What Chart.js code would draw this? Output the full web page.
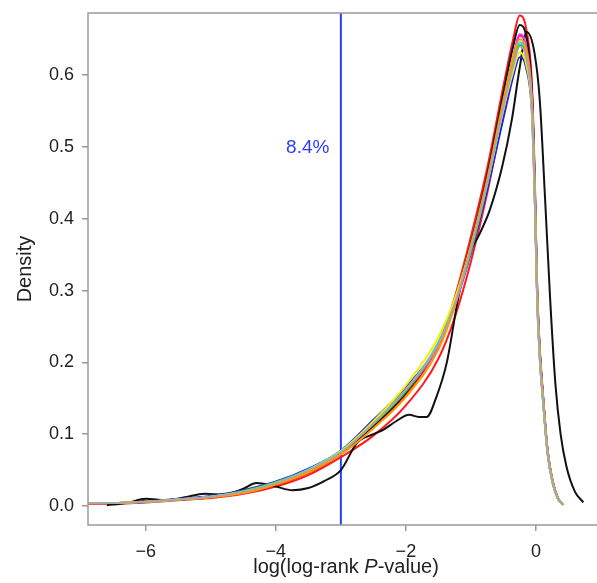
<!DOCTYPE html>
<html>
<head>
<meta charset="utf-8">
<script src="https://cdn.jsdelivr.net/npm/chart.js@4.4.1/dist/chart.umd.min.js"></script>
<style>
  html, body { margin: 0; padding: 0; background: #fff; }
  canvas { display: block; }
</style>
</head>
<body>
<canvas id="densityChart" width="597" height="583"></canvas>
<script>
// Tick values
const xTicks = [-6, -4, -2, 0];
const yTicks = [0.0, 0.1, 0.2, 0.3, 0.4, 0.5, 0.6];

// Threshold line and its label
const cutoffX = -3;
const cutoffLabel = '8.4%';
const cutoffLabelX = -3.51;
const cutoffLabelY = 0.499;

// Shared x grid for the smooth curves
const gridX = [-6.9, -6.5, -6, -5.5, -5, -4.5, -4, -3.5, -3, -2.5, -2, -1.5, -1.25, -1, -0.75, -0.5, -0.35, -0.25, -0.15, -0.06, -0.015, 0.02, 0.06, 0.11, 0.18, 0.26, 0.34, 0.42];

const grayY    = [0.004,0.004,0.006,0.009,0.013,0.02,0.032,0.05,0.075,0.115,0.162,0.226,0.282,0.358,0.448,0.555,0.612,0.64,0.624,0.553,0.425,0.29,0.208,0.148,0.074,0.032,0.01,0.002];
const orangeY  = [0.004,0.004,0.006,0.009,0.012,0.018,0.03,0.047,0.072,0.108,0.152,0.218,0.278,0.362,0.455,0.565,0.625,0.65,0.635,0.56,0.43,0.293,0.21,0.15,0.075,0.032,0.01,0.002];
const yellowY  = [0.004,0.004,0.006,0.009,0.013,0.02,0.032,0.05,0.076,0.118,0.168,0.235,0.288,0.362,0.45,0.552,0.605,0.632,0.615,0.548,0.42,0.287,0.206,0.147,0.074,0.032,0.01,0.002];
const greenY   = [0.004,0.004,0.006,0.009,0.013,0.021,0.033,0.05,0.075,0.114,0.16,0.226,0.282,0.355,0.447,0.553,0.612,0.642,0.625,0.553,0.425,0.29,0.208,0.148,0.074,0.032,0.01,0.002];
const cyanY    = [0.004,0.004,0.006,0.009,0.013,0.02,0.033,0.051,0.077,0.116,0.162,0.228,0.283,0.36,0.45,0.555,0.615,0.646,0.628,0.555,0.425,0.29,0.21,0.148,0.075,0.032,0.01,0.002];
const magentaY = [0.004,0.004,0.006,0.009,0.013,0.02,0.032,0.05,0.075,0.114,0.16,0.222,0.278,0.355,0.45,0.56,0.625,0.657,0.64,0.565,0.432,0.295,0.212,0.15,0.075,0.032,0.01,0.002];
const blueY    = [0.004,0.004,0.006,0.01,0.014,0.022,0.034,0.052,0.077,0.12,0.165,0.225,0.28,0.352,0.44,0.54,0.598,0.625,0.61,0.545,0.42,0.285,0.205,0.145,0.073,0.031,0.01,0.002];
const black1Y  = [0.004,0.004,0.007,0.009,0.013,0.02,0.031,0.049,0.074,0.112,0.158,0.226,0.285,0.365,0.46,0.575,0.64,0.67,0.655,0.575,0.44,0.3,0.215,0.152,0.076,0.033,0.011,0.002];
const red2Y    = [0.003,0.003,0.005,0.008,0.011,0.017,0.027,0.043,0.068,0.098,0.14,0.205,0.262,0.34,0.435,0.55,0.62,0.655,0.64,0.57,0.435,0.295,0.215,0.152,0.077,0.033,0.011,0.002];
const red1Y    = [0.004,0.004,0.006,0.009,0.012,0.018,0.029,0.046,0.072,0.11,0.155,0.225,0.29,0.375,0.47,0.585,0.65,0.683,0.665,0.585,0.45,0.305,0.22,0.155,0.078,0.034,0.011,0.002];

// The shifted black curve has its own grid
const black2X = [-6.6,-6.3,-6,-5.7,-5.4,-5.1,-4.8,-4.5,-4.3,-4,-3.75,-3.5,-3.25,-3,-2.75,-2.5,-2.35,-2.15,-1.95,-1.8,-1.68,-1.53,-1.37,-1.2,-1.06,-0.86,-0.71,-0.52,-0.37,-0.25,-0.14,-0.02,0.06,0.14,0.22,0.3,0.38,0.47,0.6,0.73];
const black2Y = [0.001,0.004,0.01,0.008,0.012,0.017,0.016,0.024,0.032,0.027,0.022,0.025,0.035,0.05,0.088,0.1,0.106,0.118,0.127,0.124,0.124,0.152,0.2,0.287,0.343,0.38,0.412,0.472,0.538,0.61,0.66,0.63,0.565,0.43,0.287,0.17,0.1,0.055,0.02,0.005];

function pts(xs, ys) {
  return xs.map((x, i) => ({ x: x, y: ys[i] }));
}

function curve(ys, color, xs) {
  return {
    data: pts(xs || gridX, ys),
    borderColor: color,
    borderWidth: 2,
    pointRadius: 0,
    fill: false,
    cubicInterpolationMode: 'monotone'
  };
}

const FONT = '"Liberation Sans", Arial, Helvetica, sans-serif';

// frame box, x axis title (italic P) and the percentage label
const decorations = {
  id: 'decorations',
  afterDraw(chart) {
    const { ctx, chartArea: a, scales } = chart;
    ctx.save();
    ctx.strokeStyle = '#9a9a9a';
    ctx.lineWidth = 1.5;
    ctx.strokeRect(a.left, a.top, a.right - a.left + 20, a.bottom - a.top);

    ctx.fillStyle = '#2a3cff';
    ctx.font = '19px ' + FONT;
    ctx.textAlign = 'center';
    ctx.textBaseline = 'middle';
    ctx.fillText(cutoffLabel, scales.x.getPixelForValue(cutoffLabelX), scales.y.getPixelForValue(cutoffLabelY));

    const parts = [['log(log-rank ', 'normal'], ['P', 'italic'], ['-value)', 'normal']];
    let total = 0;
    parts.forEach(p => { ctx.font = p[1] + ' 20px ' + FONT; total += ctx.measureText(p[0]).width; });
    let x = 346 - total / 2;
    ctx.fillStyle = '#222';
    ctx.textAlign = 'left';
    ctx.textBaseline = 'alphabetic';
    parts.forEach(p => {
      ctx.font = p[1] + ' 20px ' + FONT;
      ctx.fillText(p[0], x, 573);
      x += ctx.measureText(p[0]).width;
    });
    ctx.restore();
  }
};

const ctx = document.getElementById('densityChart').getContext('2d');
new Chart(ctx, {
  type: 'line',
  data: {
    datasets: [
      curve(grayY, '#a8a8a8'),
      curve(orangeY, '#ff9a00'),
      curve(yellowY, '#f2f000'),
      curve(greenY, '#22c822'),
      curve(cyanY, '#20e0e8'),
      curve(magentaY, '#ff30ff'),
      curve(blueY, '#1c1cff'),
      curve(black1Y, '#111111'),
      curve(black2Y, '#111111', black2X),
      curve(red2Y, '#ff1a1a'),
      curve(red1Y, '#ff1a1a'),
      {
        data: [{ x: cutoffX, y: -0.05 }, { x: cutoffX, y: 0.75 }],
        borderColor: '#2a3cff',
        borderWidth: 2,
        pointRadius: 0,
        fill: false
      }
    ]
  },
  options: {
    responsive: false,
    animation: false,
    layout: { padding: { top: 13, left: 0, right: 0, bottom: 0 } },
    plugins: {
      legend: { display: false },
      tooltip: { enabled: false }
    },
    scales: {
      x: {
        type: 'linear',
        min: -6.89,
        max: 0.94,
        afterBuildTicks: s => { s.ticks = xTicks.map(v => ({ value: v })); },
        afterFit: s => { s.height = 58; s.paddingLeft = 0; s.paddingRight = 0; },
        ticks: {
          autoSkip: false,
          maxRotation: 0,
          padding: 10,
          color: '#222',
          font: { size: 18, family: FONT },
          callback: v => (v < 0 ? '\u2212' + Math.abs(v) : String(v))
        },
        grid: { drawOnChartArea: false, drawTicks: true, tickLength: 6, color: '#9a9a9a', lineWidth: 1.5 },
        border: { display: false }
      },
      y: {
        type: 'linear',
        min: -0.0265,
        max: 0.6866,
        afterBuildTicks: s => { s.ticks = yTicks.map(v => ({ value: v })); },
        afterFit: s => { s.width = 88; s.paddingTop = 0; s.paddingBottom = 0; },
        ticks: {
          autoSkip: false,
          padding: 8,
          color: '#222',
          font: { size: 18, family: FONT },
          callback: v => v.toFixed(1)
        },
        grid: { drawOnChartArea: false, drawTicks: true, tickLength: 6, color: '#9a9a9a', lineWidth: 1.5 },
        border: { display: false },
        title: {
          display: true,
          text: 'Density',
          color: '#222',
          font: { size: 20, family: FONT },
          padding: { top: 13, bottom: 0 }
        }
      }
    }
  },
  plugins: [decorations]
});
</script>
</body>
</html>
